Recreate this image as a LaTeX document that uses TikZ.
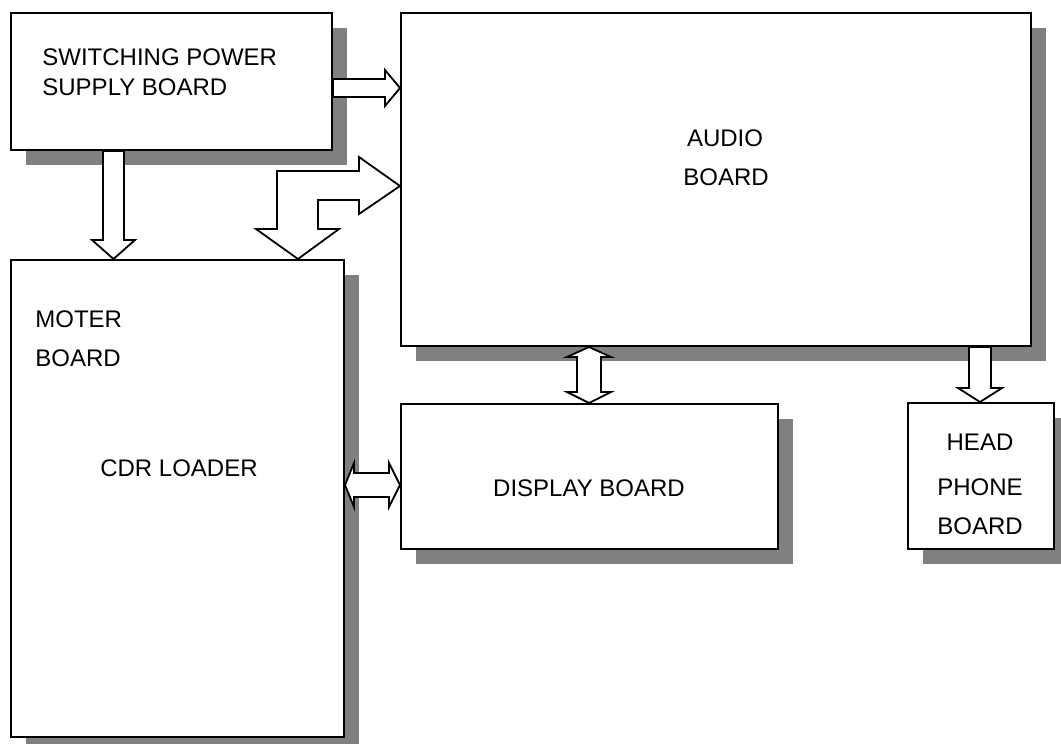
\documentclass[tikz,border=0pt]{standalone}
\usepackage{fontspec}
\setmainfont{Liberation Sans}
\usepackage{tikz}
\usetikzlibrary{positioning,shadows}

\tikzset{
  board/.style={draw, line width=1pt, fill=white, inner sep=0pt, anchor=north west,
    drop shadow={shadow xshift=7.5pt, shadow yshift=-7.5pt, fill=black!50, opacity=1}},
  blk/.style={draw, line width=0.9pt, fill=white, line join=miter},
  lbl/.style={font=\fontsize{12}{14}\selectfont, inner sep=0pt}
}

\begin{document}
\begin{tikzpicture}[x=0.5pt, y=-0.5pt]
    \useasboundingbox (0,0) rectangle (1061,744);
    % boards
    \node[board, minimum width=160.5pt, minimum height=68.5pt] (sps) at (10,12) {};
    \node[board, minimum width=315pt, minimum height=166.5pt] (audio) at (400,12) {};
    \node[board, minimum width=166.5pt, minimum height=238.5pt] (moter) at (10,259) {};
    \node[board, minimum width=188.5pt, minimum height=72.5pt] (disp) at (400,403) {};
    \node[board, minimum width=73pt, minimum height=73pt] (head) at (907,402) {};

    % labels
    \node[lbl, anchor=base west] (spsA) at (42,65) {SWITCHING POWER};
    \node[lbl, anchor=base west] (spsB) at (42,95) {SUPPLY BOARD};
    \node[lbl, anchor=base] (audioA) at (725,146) {AUDIO};
    \node[lbl, anchor=base] (audioB) at (726,185) {BOARD};
    \node[lbl, anchor=base west] (moterA) at (35,327) {MOTER};
    \node[lbl, anchor=base west] (moterB) at (35,366) {BOARD};
    \node[lbl, anchor=base] (cdr) at (179,476) {CDR LOADER};
    \node[lbl, anchor=base] (dispA) at (589,496) {DISPLAY BOARD};
    \node[lbl, anchor=base] (headA) at (980,450) {HEAD};
    \node[lbl, anchor=base] (headB) at (980,495) {PHONE};
    \node[lbl, anchor=base] (headC) at (980,534) {BOARD};

    % block arrows
    \draw[blk] (sps.east |- 0,79) -- (385,79) -- (385,70) -- (audio.west |- 0,88)
      -- (385,106) -- (385,97) -- (sps.east |- 0,97) -- cycle;
    \draw[blk] (sps.south -| 103,0) -- (103,240) -- (92,240) -- (moter.north -| 113.5,0)
      -- (135,240) -- (124,240) -- (sps.south -| 124,0) -- cycle;
    \draw[blk] (277,171) -- (359,171) -- (359,157) -- (audio.west |- 0,186)
      -- (359,214) -- (359,200) -- (318,200) -- (318,229) -- (339,229)
      -- (moter.north -| 298,0) -- (256,229) -- (277,229) -- cycle;
    \draw[blk] (moter.east |- 0,485) -- (354,463) -- (354,473) -- (389,473) -- (389,463)
      -- (disp.west |- 0,485) -- (389,507) -- (389,497) -- (354,497) -- (354,507) -- cycle;
    \draw[blk] (audio.south -| 589,0) -- (611,357) -- (601,357) -- (601,392) -- (611,392)
      -- (disp.north -| 589,0) -- (567,392) -- (577,392) -- (577,357) -- (567,357) -- cycle;
    \draw[blk] (audio.south -| 969,0) -- (969,388) -- (958,388) -- (head.north -| 980,0)
      -- (1002,388) -- (991,388) -- (audio.south -| 991,0) -- cycle;
\end{tikzpicture}
\end{document}
